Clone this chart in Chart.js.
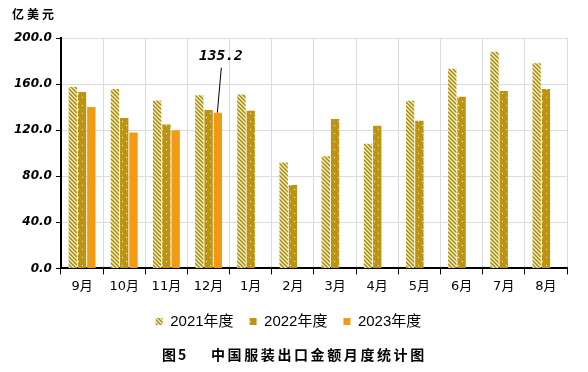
<!DOCTYPE html>
<html>
<head>
<meta charset="utf-8">
<script src="https://cdn.jsdelivr.net/npm/chart.js@4/dist/chart.umd.min.js"></script>
<style>
  html, body { margin: 0; padding: 0; background: #fff; }
  #wrap { width: 588px; height: 372px; }
</style>
</head>
<body>
<div id="wrap"><canvas id="chart" width="588" height="372"></canvas></div>
<script>
const months = ['9月', '10月', '11月', '12月', '1月', '2月', '3月', '4月', '5月', '6月', '7月', '8月'];
const y2021 = [157.5, 155.8, 145.7, 150.4, 151.0, 92.0, 97.3, 108.2, 145.5, 173.2, 188.1, 178.0];
const y2022 = [153.2, 130.5, 125.0, 137.4, 136.8, 72.5, 129.6, 123.8, 128.1, 148.9, 154.1, 155.8];
const y2023 = [140.0, 118.0, 120.0, 135.2, null, null, null, null, null, null, null, null];
const seriesNames = ['2021年度', '2022年度', '2023年度'];
const yTicks = [0, 40, 80, 120, 160, 200];
const unitText = '亿美元';
const captionNo = '图5';
const captionText = '中国服装出口金额月度统计图';
const noteIndex = 3;

function stripePattern() {
  const c = document.createElement('canvas');
  c.width = 4; c.height = 4;
  const g = c.getContext('2d');
  g.fillStyle = '#fdf3b6';
  g.fillRect(0, 0, 4, 4);
  g.strokeStyle = '#a5881a';
  g.lineWidth = 1.5;
  g.beginPath();
  g.moveTo(-1, -1); g.lineTo(5, 5);
  g.moveTo(-1, 3); g.lineTo(1, 5);
  g.moveTo(3, -1); g.lineTo(5, 1);
  g.stroke();
  return g.createPattern(c, 'repeat');
}

function dotPattern() {
  const c = document.createElement('canvas');
  c.width = 8; c.height = 8;
  const g = c.getContext('2d');
  g.fillStyle = '#bd9412';
  g.fillRect(0, 0, 8, 8);
  g.fillStyle = '#fff6d8';
  g.fillRect(2, 1, 1, 1);
  g.fillRect(6, 5, 1, 1);
  return g.createPattern(c, 'repeat');
}

// leader line + value label on the 12月 2023 bar, plus unit text and caption
const extras = {
  id: 'extras',
  afterDatasetsDraw(chart) {
    const ctx = chart.ctx;
    const bar = chart.getDatasetMeta(2).data[noteIndex];
    ctx.save();
    ctx.strokeStyle = '#000';
    ctx.lineWidth = 1;
    ctx.beginPath();
    ctx.moveTo(bar.x - 0.5, bar.y);
    ctx.lineTo(bar.x + 3.5, bar.y - 45);
    ctx.stroke();
    ctx.fillStyle = '#000';
    ctx.font = 'bold italic 14.5px "DejaVu Sans Mono"';
    ctx.textAlign = 'center';
    ctx.textBaseline = 'bottom';
    ctx.fillText(y2023[noteIndex].toFixed(1), bar.x + 3, bar.y - 49);
    ctx.restore();
  },
  afterDraw(chart) {
    const ctx = chart.ctx;
    ctx.save();
    ctx.fillStyle = '#000';
    ctx.textBaseline = 'middle';
    ctx.textAlign = 'left';
    ctx.font = 'bold 12px "Noto Sans CJK SC"';
    ctx.letterSpacing = '3px';
    ctx.fillText(unitText, 12, 14);
    ctx.font = 'bold 14px "Noto Sans CJK SC"';
    ctx.letterSpacing = '2px';
    ctx.fillText(captionNo, 162, 355);
    ctx.letterSpacing = '2.6px';
    ctx.fillText(captionText, 211, 355);
    ctx.restore();
  }
};

const ctx = document.getElementById('chart');
new Chart(ctx, {
  type: 'bar',
  data: {
    labels: months,
    datasets: [
      { label: seriesNames[0], data: y2021, backgroundColor: stripePattern() },
      { label: seriesNames[1], data: y2022, backgroundColor: dotPattern() },
      { label: seriesNames[2], data: y2023, backgroundColor: '#f39a14' }
    ]
  },
  options: {
    responsive: false,
    animation: false,
    categoryPercentage: 0.66,
    barPercentage: 0.9,
    layout: { padding: { top: 38, left: 10, right: 21, bottom: 33 } },
    plugins: {
      legend: {
        position: 'bottom',
        labels: {
          boxWidth: 7, boxHeight: 7, padding: 16, color: '#000',
          font: { size: 15, family: '"Liberation Sans", "Noto Sans CJK SC"' }
        }
      },
      tooltip: { enabled: false }
    },
    scales: {
      x: {
        grid: { color: '#dcdcdc', tickColor: '#000', tickLength: 6, offset: true },
        border: { color: '#000', width: 2 },
        ticks: { color: '#000', padding: 4, font: { size: 13, family: '"DejaVu Sans", "Noto Sans CJK SC"' } }
      },
      y: {
        min: 0, max: 200,
        afterBuildTicks(scale) { scale.ticks = yTicks.map(v => ({ value: v })); },
        grid: { color: '#dcdcdc', tickColor: '#000', tickLength: 5 },
        border: { color: '#000', width: 2 },
        ticks: {
          color: '#000', padding: 4,
          font: { size: 12, weight: 'bold', style: 'italic', family: '"DejaVu Sans"' },
          callback: v => v.toFixed(1)
        }
      }
    }
  },
  plugins: [extras]
});
</script>
</body>
</html>
